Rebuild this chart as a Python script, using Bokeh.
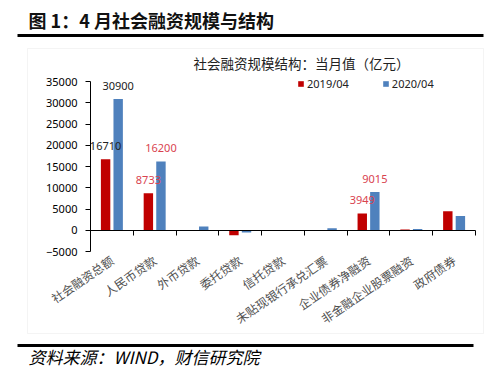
from bokeh.plotting import figure
from bokeh.models import (ColumnDataSource, LinearAxis, FixedTicker, Range1d, Label,
                          BoxAnnotation, Legend, LegendItem)
from bokeh.transform import dodge
from bokeh.core.properties import value
from bokeh.embed import file_html
from bokeh.resources import INLINE

# ---------------- data ----------------
categories = ["社会融资总额", "人民币贷款", "外币贷款", "委托贷款", "信托贷款",
              "未贴现银行承兑汇票", "企业债券净融资", "非金融企业股票融资", "政府债券"]
series_names = ["2019/04", "2020/04"]
s2019 = [16710, 8733, -200, -1200, -30, -150, 3949, 187, 4450]
s2020 = [30900, 16200, 900, -550, -40, 500, 9015, 279, 3350]
labelled_idx = [0, 1, 6]
y_ticks = [-5000, 0, 5000, 10000, 15000, 20000, 25000, 30000, 35000]
main_title = "图 1：4 月社会融资规模与结构"
chart_title = "社会融资规模结构：当月值（亿元）"
source_note = "资料来源：WIND，财信研究院"

RED = "#C00000"
BLUE = "#4F81BD"
LBL_RED = "#D9434F"
CJK = "Noto Sans CJK SC"

# ---------------- layout (pixels) ----------------
W, H = 500, 380
PX_L, PX_R, PX_T, PX_B = 90, 475, 81, 251   # plot area in canvas pixels

n = len(categories)
ymin, ymax = y_ticks[0], y_ticks[-1]
ux = (PX_R - PX_L) / n
uy = (PX_B - PX_T) / (ymax - ymin)
x_range = Range1d(-PX_L / ux, (W - PX_L) / ux)
y_range = Range1d(ymin - (H - PX_B) / uy, ymax + PX_T / uy)

def sy(img_y):
    return H - img_y

xc = [i + 0.5 for i in range(n)]
src = ColumnDataSource(dict(xc=xc, cat=categories, a=s2019, b=s2020))

p = figure(width=W, height=H, output_backend="svg", toolbar_location=None,
           x_range=x_range, y_range=y_range,
           x_axis_location=None, y_axis_location=None,
           min_border=0, min_border_left=0, min_border_right=0,
           min_border_top=0, min_border_bottom=0,
           background_fill_color="white", border_fill_color="white",
           outline_line_color=None)
p.grid.visible = False

# bars
off = 0.147
bw = 0.22
r1 = p.vbar(x=dodge("xc", -off), top="a", width=bw, source=src, fill_color=RED, line_color=None)
r2 = p.vbar(x=dodge("xc", off), top="b", width=bw, source=src, fill_color=BLUE, line_color=None)

# data labels
lx, ly, lt, lc = [], [], [], []
for i in labelled_idx:
    for vals, o in ((s2019, -off), (s2020, off)):
        lx.append(xc[i] + o)
        ly.append(vals[i])
        lt.append(str(vals[i]))
        lc.append("#222222" if i == 0 else LBL_RED)
lsrc = ColumnDataSource(dict(x=lx, y=ly, t=lt, c=lc))
p.text(x="x", y="y", text="t", source=lsrc, text_color="c", text_align="center",
       text_baseline="middle", y_offset=-13, text_font_size="11px",
       text_font=value("Noto Sans"))

# y axis (drawn at x = 0)
ya = LinearAxis(fixed_location=0, bounds=(ymin, ymax), ticker=FixedTicker(ticks=y_ticks),
                minor_tick_line_color=None, major_tick_in=0, major_tick_out=5,
                axis_line_color="#000000", major_tick_line_color="#000000",
                major_label_text_font="Noto Sans", major_label_text_font_size="11px",
                major_label_text_color="#000000", major_label_standoff=8)
p.add_layout(ya, "left")

# category labels (below the plot area)
xa = LinearAxis(fixed_location=ymin, ticker=FixedTicker(ticks=xc),
                major_label_overrides={x: c for x, c in zip(xc, categories)},
                axis_line_color=None, major_tick_line_color=None,
                minor_tick_line_color=None, major_tick_out=0, major_tick_in=0,
                major_label_orientation=0.6, major_label_standoff=7,
                major_label_text_font=CJK, major_label_text_font_size="12px",
                major_label_text_color="#505050")
p.add_layout(xa, "below")

# zero axis with ticks between categories
za = LinearAxis(fixed_location=0, bounds=(0, n), ticker=FixedTicker(ticks=list(range(n + 1))),
                major_label_overrides={i: "" for i in range(n + 1)},
                major_tick_in=0, major_tick_out=5, minor_tick_line_color=None,
                axis_line_color="#000000", major_tick_line_color="#000000",
                major_label_text_font_size="1px")
p.add_layout(za, "below")

# legend
legend = Legend(items=[LegendItem(label=series_names[0], renderers=[r1]),
                       LegendItem(label=series_names[1], renderers=[r2])],
                orientation="horizontal", location=(297, sy(91)),
                glyph_width=7, glyph_height=7, label_standoff=3, spacing=33,
                padding=0, margin=0, border_line_color=None,
                background_fill_alpha=0, label_text_font="Noto Sans",
                label_text_font_size="11px", label_text_color="#222222")
p.add_layout(legend, "center")

# decorations: chart box, thick rules
def box(l, r, t, b, **kw):
    return BoxAnnotation(left=l, right=r, top=sy(t), bottom=sy(b),
                         left_units="screen", right_units="screen",
                         top_units="screen", bottom_units="screen", **kw)

p.add_layout(box(27, 483, 48, 333, fill_alpha=0, line_color="#d9d9d9", line_width=1))
p.add_layout(box(17, 483, 33.5, 36.5, fill_color="#000000", fill_alpha=1, line_color=None))
p.add_layout(box(17, 473, 343.5, 346.5, fill_color="#000000", fill_alpha=1, line_color=None))

# texts
p.add_layout(Label(x=28, y=sy(19), x_units="screen", y_units="screen", text=main_title,
                   text_font=CJK, text_font_size="18px", text_font_style="bold",
                   text_baseline="middle", text_color="#111111"))
p.add_layout(Label(x=301, y=sy(62), x_units="screen", y_units="screen", text=chart_title,
                   text_font=CJK, text_font_size="13.5px", text_align="center",
                   text_baseline="middle", text_color="#222222"))
p.add_layout(Label(x=28, y=sy(356), x_units="screen", y_units="screen", text=source_note,
                   text_font=CJK, text_font_size="17px", text_font_style="italic",
                   text_baseline="middle", text_color="#000000"))

open("out.html", "w").write(file_html(p, INLINE))
